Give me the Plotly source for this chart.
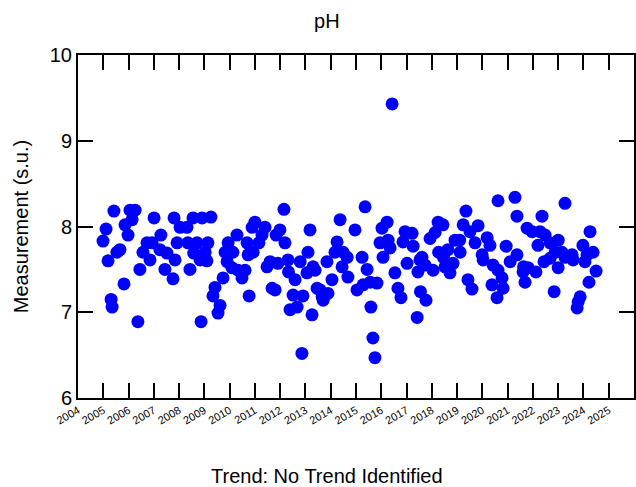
import plotly.graph_objects as go

# sample date (decimal year) and pH value
years = [
    2004.99, 2005.11, 2005.19, 2005.31, 2005.35, 2005.42, 2005.54, 2005.66, 2005.82, 2005.86,
    2005.98, 2006.06, 2006.14, 2006.26, 2006.37, 2006.45, 2006.57, 2006.73, 2006.85, 2006.93,
    2007.01, 2007.24, 2007.28, 2007.44, 2007.52, 2007.76, 2007.80, 2007.84, 2007.92, 2008.04,
    2008.31, 2008.35, 2008.43, 2008.55, 2008.58, 2008.71, 2008.83, 2008.87, 2008.91,
    2009.26, 2009.14, 2009.03, 2009.10, 2011.00, 2010.89, 2011.40, 2011.28, 2011.16, 2010.93,
    2010.73, 2010.61, 2010.49, 2010.69, 2010.29, 2009.94, 2009.82, 2010.13, 2009.90, 2010.09,
    2010.33, 2009.74, 2009.42, 2009.34, 2009.62, 2009.54, 2010.77, 2012.15, 2011.99, 2011.84,
    2012.19, 2011.60, 2011.48, 2011.91, 2012.31, 2012.33, 2012.59, 2012.79, 2011.68, 2011.80,
    2012.51, 2012.90, 2012.39, 2012.67, 2012.86, 2013.18, 2013.10, 2013.06, 2013.30, 2013.26,
    2013.38, 2013.46, 2013.58, 2013.66, 2014.37, 2014.96, 2015.36, 2014.25, 2014.17, 2013.85,
    2014.49, 2014.65, 2014.45, 2014.68, 2014.05, 2013.89, 2013.70, 2015.24, 2015.44, 2015.04,
    2015.28, 2015.56, 2015.83, 2015.59, 2015.67, 2015.75, 2016.23, 2016.03, 2016.27, 2015.95,
    2016.35, 2016.07, 2016.54, 2016.66, 2016.78, 2017.42, 2016.94, 2017.22, 2016.86, 2017.26,
    2017.02, 2017.53, 2017.45, 2017.55, 2016.43,
    2017.61, 2017.73, 2018.05, 2017.77, 2017.93, 2018.13, 2018.25, 2018.44, 2018.27, 2018.46,
    2018.64, 2018.52, 2018.72, 2018.84, 2018.92, 2019.12, 2019.10, 2019.24, 2019.35, 2019.43,
    2019.59, 2019.51, 2019.71, 2019.83, 2019.99, 2020.03, 2020.19, 2020.30, 2020.42, 2020.62,
    2020.78, 2020.82, 2020.38, 2020.58, 2020.62, 2021.29, 2021.37, 2020.94, 2021.10, 2021.37,
    2021.61, 2021.69, 2021.77, 2021.63,
    2021.97, 2022.36, 2022.28, 2022.48, 2022.20, 2022.68, 2023.00, 2022.88, 2023.15, 2023.27,
    2023.55, 2023.59, 2022.44, 2022.68, 2023.00, 2022.12, 2021.81, 2022.84, 2023.27, 2023.98,
    2024.26, 2024.38, 2024.14, 2024.06, 2024.50, 2024.22, 2023.87, 2023.79, 2023.75,
]
ph_values = [
    7.83, 7.97, 7.60, 7.15, 7.06, 8.18, 7.70, 7.73, 7.33, 8.02,
    7.90, 8.19, 8.08, 8.19, 6.89, 7.50, 7.70, 7.81, 7.61, 7.81,
    8.10, 7.73, 7.90, 7.50, 7.69, 7.39, 8.10, 7.61, 7.81, 7.99,
    7.99, 7.81, 7.50, 8.10, 7.69, 7.81, 7.61, 6.89, 8.10,
    8.11, 7.81, 7.70, 7.60, 8.05, 7.99, 7.99, 7.90, 7.81, 7.70,
    7.67, 7.49, 7.40, 7.81, 7.90, 7.81, 7.70, 7.70, 7.59, 7.52,
    7.49, 7.40, 7.29, 7.19, 7.08, 6.99, 7.19, 8.20, 7.96, 7.90,
    7.81, 7.59, 7.53, 7.57, 7.61, 7.47, 7.38, 7.59, 7.28, 7.26,
    7.20, 7.19, 7.03, 7.06, 6.52, 7.96, 7.70, 7.46, 7.53, 6.97,
    7.49, 7.28, 7.26, 7.18, 8.08, 7.96, 8.23, 7.82, 7.70, 7.59,
    7.70, 7.64, 7.53, 7.41, 7.38, 7.22, 7.14, 7.64, 7.50, 7.26,
    7.32, 7.35, 7.34, 7.06, 6.70, 6.47, 8.05, 7.98, 7.84, 7.81,
    7.75, 7.64, 7.46, 7.28, 7.17, 6.94, 7.94, 7.92, 7.82, 7.77,
    7.57, 7.61, 7.47, 7.24, 9.43,
    7.64, 7.55, 7.49, 7.14, 7.86, 7.93, 8.05, 8.02, 7.70, 7.64,
    7.73, 7.53, 7.46, 7.57, 7.84, 7.70, 7.84, 8.02, 8.18, 7.38,
    7.27, 7.94, 7.81, 8.01, 7.67, 7.61, 7.87, 7.78, 7.55, 7.49,
    7.40, 7.28, 7.32, 7.17, 8.30, 8.34, 8.12, 7.77, 7.59, 7.67,
    7.47, 7.35, 7.98, 7.53,
    7.94, 8.12, 7.94, 7.90, 7.78, 7.81, 7.84, 7.70, 7.70, 7.64,
    7.67, 7.61, 7.59, 7.63, 7.52, 7.47, 7.52, 7.24, 8.27, 7.78,
    7.94, 7.70, 7.67, 7.59, 7.48, 7.35, 7.18, 7.12, 7.05,
]
x_tick_values = list(range(2004, 2026))
x_tick_labels = [str(v) for v in x_tick_values]
y_tick_values = [6, 7, 8, 9, 10]

title_text = "pH"
y_title = "Measurement (s.u.)"
trend_text = "Trend: No Trend Identified"

FONT = "Arial, Liberation Sans, sans-serif"

fig = go.Figure()
fig.add_trace(go.Scatter(
    x=years, y=ph_values, mode="markers",
    marker=dict(color="#0000FF", size=13, line=dict(width=0)),
    showlegend=False, hoverinfo="x+y",
))

axis_common = dict(
    showline=True, linecolor="black", linewidth=2, mirror="ticks",
    ticks="inside", ticklen=15, tickwidth=1.5, tickcolor="black",
    showgrid=False, zeroline=False, automargin=False,
)

fig.update_layout(
    width=636, height=487,
    margin=dict(l=78, r=2, t=55, b=89, autoexpand=False),
    paper_bgcolor="white", plot_bgcolor="white",
    font=dict(family=FONT, color="black"),
    title=dict(text=title_text, x=0.514, xanchor="center", y=0.956, yanchor="middle",
               font=dict(size=20, family=FONT, color="black")),
    xaxis=dict(range=[2004, 2026], tickmode="array", tickvals=x_tick_values,
               ticktext=x_tick_labels, tickangle=-30,
               tickfont=dict(size=11, family=FONT, color="black"), **axis_common),
    yaxis=dict(range=[6, 10], tickmode="array", tickvals=y_tick_values,
               tickfont=dict(size=20, family=FONT, color="black"),
               title=dict(text=y_title, font=dict(size=20, family=FONT, color="black"), standoff=16),
               **axis_common),
    annotations=[dict(text=trend_text, xref="paper", yref="paper",
                      x=(327 - 78) / 556, y=-0.19, xanchor="center", yanchor="top",
                      showarrow=False, font=dict(size=20, family=FONT, color="black"))],
)

fig.write_html(
    "out.html",
    config={"displayModeBar": False},
    post_script="document.body.style.margin='0';document.body.style.overflow='hidden';",
)
